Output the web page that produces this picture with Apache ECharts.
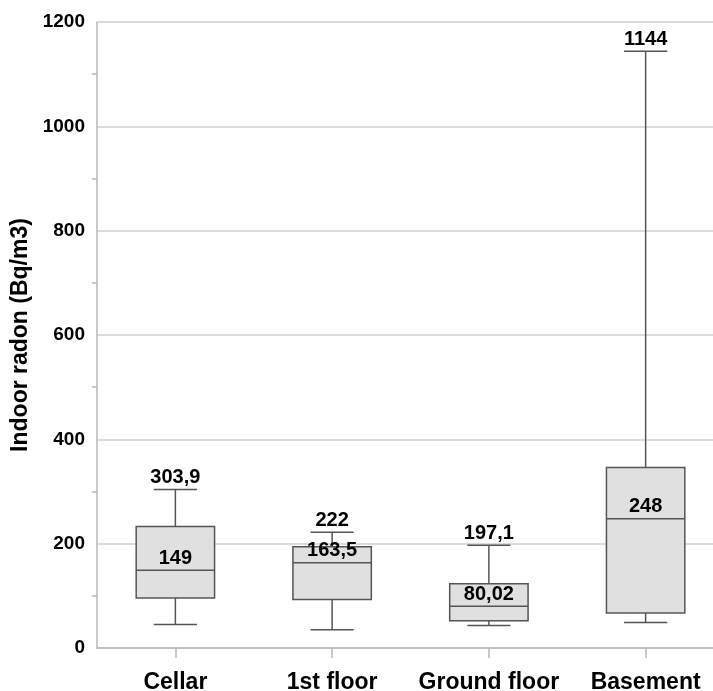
<!DOCTYPE html>
<html>
<head>
<meta charset="utf-8">
<script src="https://cdn.jsdelivr.net/npm/echarts@6/dist/echarts.min.js"></script>
<style>html,body{margin:0;padding:0;background:#fff}#c{width:713px;height:691px}</style>
</head>
<body>
<div id="c"></div>
<script>
var categories = ['Cellar', '1st floor', 'Ground floor', 'Basement'];
var mins    = [45, 35, 43, 49];
var q1s     = [96, 93, 52, 67];
var medians = [149, 163.5, 80.02, 248];
var q3s     = [233, 194, 123, 346];
var maxs    = [303.9, 222, 197.1, 1144];
var yTicks  = [0, 200, 400, 600, 800, 1000, 1200];

var FONT = '"Liberation Sans", Arial, sans-serif';
function fmt(v){ return String(v).replace('.', ','); }

var boxData = categories.map(function(c, i){ return [i, mins[i], q1s[i], medians[i], q3s[i], maxs[i]]; });
var labelData = [];
categories.forEach(function(c, i){
  labelData.push([i, maxs[i], fmt(maxs[i])]);
  labelData.push([i, medians[i], fmt(medians[i])]);
});

var chart = echarts.init(document.getElementById('c'));
chart.setOption({
  animation: false,
  grid: {left: 97, top: 22, bottom: 43, width: 627, containLabel: false, outerBoundsMode: 'none'},
  xAxis: {
    type: 'category',
    data: categories,
    axisLine: {lineStyle: {color: '#b8b8b8', width: 1.5}},
    axisTick: {show: true, alignWithLabel: true, length: 10, lineStyle: {color: '#b8b8b8', width: 1.5}},
    axisLabel: {interval: 0, color: '#000', fontWeight: 'bold', fontSize: 23, fontFamily: FONT, margin: 23},
    splitLine: {show: false}
  },
  yAxis: {
    type: 'value',
    min: yTicks[0], max: yTicks[yTicks.length - 1], interval: 200,
    name: 'Indoor radon (Bq/m3)',
    nameLocation: 'middle',
    nameGap: 58,
    nameTextStyle: {color: '#000', fontWeight: 'bold', fontSize: 23, fontFamily: FONT},
    axisLine: {show: true, lineStyle: {color: '#b8b8b8', width: 1.5}},
    axisTick: {show: false},
    minorTick: {show: true, splitNumber: 2, length: 5, lineStyle: {color: '#b8b8b8', width: 1.5}},
    axisLabel: {color: '#000', fontWeight: 'bold', fontSize: 19, fontFamily: FONT, margin: 12,
      formatter: function(v){ return String(v); }},
    splitLine: {show: true, lineStyle: {color: '#cfcfcf', width: 1.5}}
  },
  series: [
    {
      type: 'custom',
      data: boxData,
      encode: {x: 0, y: [1, 2, 3, 4, 5]},
      renderItem: function(params, api){
        var idx = api.value(0);
        var pMin = api.coord([idx, api.value(1)]);
        var pQ1 = api.coord([idx, api.value(2)]);
        var pMed = api.coord([idx, api.value(3)]);
        var pQ3 = api.coord([idx, api.value(4)]);
        var pMax = api.coord([idx, api.value(5)]);
        var band = api.size([1, 0])[0];
        var bw = band * 0.5, cw = band * 0.275;
        var cx = pMed[0];
        var ls = {stroke: '#555', lineWidth: 1.5};
        return {
          type: 'group',
          children: [
            {type: 'line', shape: {x1: cx, y1: pMax[1], x2: cx, y2: pQ3[1]}, style: ls},
            {type: 'line', shape: {x1: cx, y1: pQ1[1], x2: cx, y2: pMin[1]}, style: ls},
            {type: 'line', shape: {x1: cx - cw/2, y1: pMax[1], x2: cx + cw/2, y2: pMax[1]}, style: ls},
            {type: 'line', shape: {x1: cx - cw/2, y1: pMin[1], x2: cx + cw/2, y2: pMin[1]}, style: ls},
            {type: 'rect', shape: {x: cx - bw/2, y: pQ3[1], width: bw, height: pQ1[1] - pQ3[1]}, style: {fill: '#e0e0e0', stroke: '#555', lineWidth: 1.5}},
            {type: 'line', shape: {x1: cx - bw/2, y1: pMed[1], x2: cx + bw/2, y2: pMed[1]}, style: ls}
          ]
        };
      },
      z: 3
    },
    {
      type: 'custom',
      data: labelData,
      encode: {x: 0, y: 1},
      renderItem: function(params, api){
        var p = api.coord([api.value(0), api.value(1)]);
        return {
          type: 'text',
          x: p[0], y: p[1] - 2,
          style: {
            text: labelData[params.dataIndex][2],
            fill: '#000', font: 'bold 20px ' + FONT,
            align: 'center', verticalAlign: 'bottom'
          }
        };
      },
      z: 5
    }
  ]
});
</script>
</body>
</html>
